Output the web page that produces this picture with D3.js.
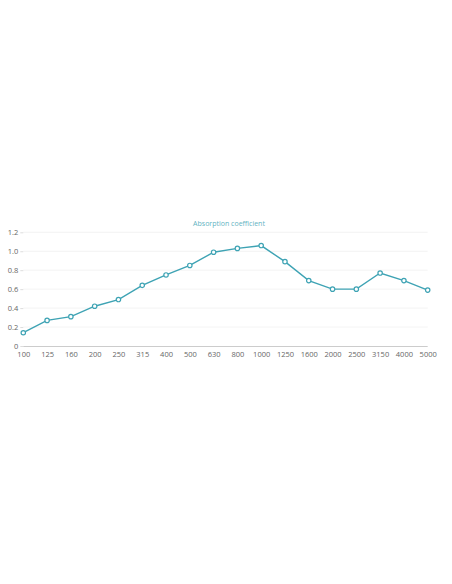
<!DOCTYPE html>
<html><head><meta charset="utf-8">
<script src="https://cdn.jsdelivr.net/npm/d3@7"></script>
<style>body{margin:0;background:#fff;}svg{display:block;}</style>
</head><body>
<svg id="c" width="452" height="584"></svg>
<script>
const categories = ["100","125","160","200","250","315","400","500","630","800","1000","1250","1600","2000","2500","3150","4000","5000"];
const values = [0.14,0.27,0.31,0.42,0.49,0.64,0.75,0.85,0.99,1.03,1.06,0.89,0.69,0.60,0.60,0.77,0.69,0.59];
const yTicks = [0,0.2,0.4,0.6,0.8,1.0,1.2];
const title = "Absorption coefficient";
const color = "#3ea3b4";

(function(){
const svg = d3.select("#c");
const mLeft = 23.3, mRight = 427.7, mTop = 232.3, mBottom = 346;
const x = d3.scalePoint().domain(categories).range([mLeft, mRight]);
const y = d3.scaleLinear().domain([0, 1.2]).range([mBottom, mTop]);

svg.append("text").attr("x", 229).attr("y", 225.5).attr("text-anchor","middle")
  .attr("font-family","Open Sans, sans-serif").attr("font-size",7).attr("fill","#5fb3c2").text(title);

svg.append("g").selectAll("line").data(yTicks.filter(d=>d>0)).join("line")
  .attr("x1", mLeft).attr("x2", mRight).attr("y1", d=>y(d)).attr("y2", d=>y(d))
  .attr("stroke","#f0f0f0").attr("stroke-width",0.8);

const ya = svg.append("g").attr("transform",`translate(${mLeft},0)`)
  .call(d3.axisLeft(y).tickValues(yTicks).tickSize(3).tickFormat(d=> d===0?"0":d3.format(".1f")(d)));
ya.select(".domain").remove();
ya.selectAll("line").attr("stroke","#ddd");
ya.selectAll("text").attr("font-family","Open Sans, sans-serif").attr("font-size",7.5).attr("fill","#666").attr("x",-5);

const xa = svg.append("g").attr("transform",`translate(0,${mBottom})`)
  .call(d3.axisBottom(x).tickSize(0).tickPadding(6));
xa.select(".domain").attr("stroke","#ccc").attr("d", `M${mLeft},0.5H${mRight}`);
xa.selectAll("text").attr("font-family","Open Sans, sans-serif").attr("font-size",7.5).attr("fill","#666");

const line = d3.line().x((d,i)=>x(categories[i])).y(d=>y(d));
svg.append("path").datum(values).attr("d", line).attr("fill","none").attr("stroke",color).attr("stroke-width",1.4);
svg.append("g").selectAll("circle").data(values).join("circle")
  .attr("cx",(d,i)=>x(categories[i])).attr("cy",d=>y(d)).attr("r",2.2)
  .attr("fill","#fff").attr("stroke",color).attr("stroke-width",1.2);
})();
</script>
</body></html>
